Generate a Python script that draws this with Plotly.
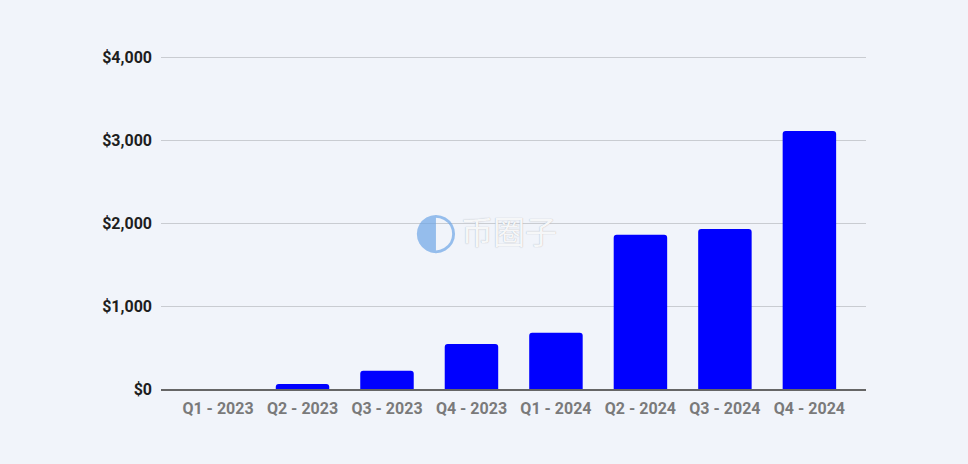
import plotly.graph_objects as go

categories = ["Q1 - 2023", "Q2 - 2023", "Q3 - 2023", "Q4 - 2023",
              "Q1 - 2024", "Q2 - 2024", "Q3 - 2024", "Q4 - 2024"]
values = [0, 60, 220, 542, 678, 1860, 1930, 3110]
y_ticks = [0, 1000, 2000, 3000, 4000]
y_tick_labels = ["$0", "$1,000", "$2,000", "$3,000", "$4,000"]

bg = "#F1F4FA"

fig = go.Figure(go.Bar(
    x=categories, y=values,
    marker=dict(color="#0000FF", cornerradius=3, line=dict(width=0)),
    hoverinfo="x+y",
))

fig.update_layout(
    width=968, height=464,
    paper_bgcolor=bg, plot_bgcolor=bg,
    margin=dict(l=161, r=102, t=54, b=75),
    bargap=0.367,
    showlegend=False,
    font=dict(family="Roboto", size=16),
)
fig.update_yaxes(
    range=[0, 4040], tickvals=y_ticks, ticktext=y_tick_labels,
    showgrid=True, gridcolor="#C9CCD1", gridwidth=1,
    zeroline=False, showline=False,
    ticks="", ticklabelstandoff=8,
    tickfont=dict(family="Roboto", size=16, color="#1E1E1E", weight="bold"),
)
fig.update_xaxes(
    range=[-0.675, 7.67],
    showline=True, linecolor="#666666", linewidth=2,
    ticks="", showgrid=False, ticklabelstandoff=4,
    tickfont=dict(family="Roboto", size=16, color="#7A7A7A", weight="bold"),
)
fig.add_annotation(
    x=0.5, y=0.5, xref="paper", yref="paper",
    text="币圈子", showarrow=False,
    font=dict(family="Noto Sans CJK SC", size=32, color="rgba(255,255,255,0.92)",
              shadow="0px 0px 1px #9AA0AA"),
    xshift=-5, yshift=-8,
)
fig.add_annotation(
    x=0.5, y=0.5, xref="paper", yref="paper",
    text="◐", showarrow=False,
    font=dict(family="DejaVu Sans", size=50, color="rgba(110,165,230,0.7)"),
    xshift=-78, yshift=-8,
)

fig.write_html("out.html", config={"displayModeBar": False},
               post_script="document.body.style.margin='0';document.body.style.padding='0';")
